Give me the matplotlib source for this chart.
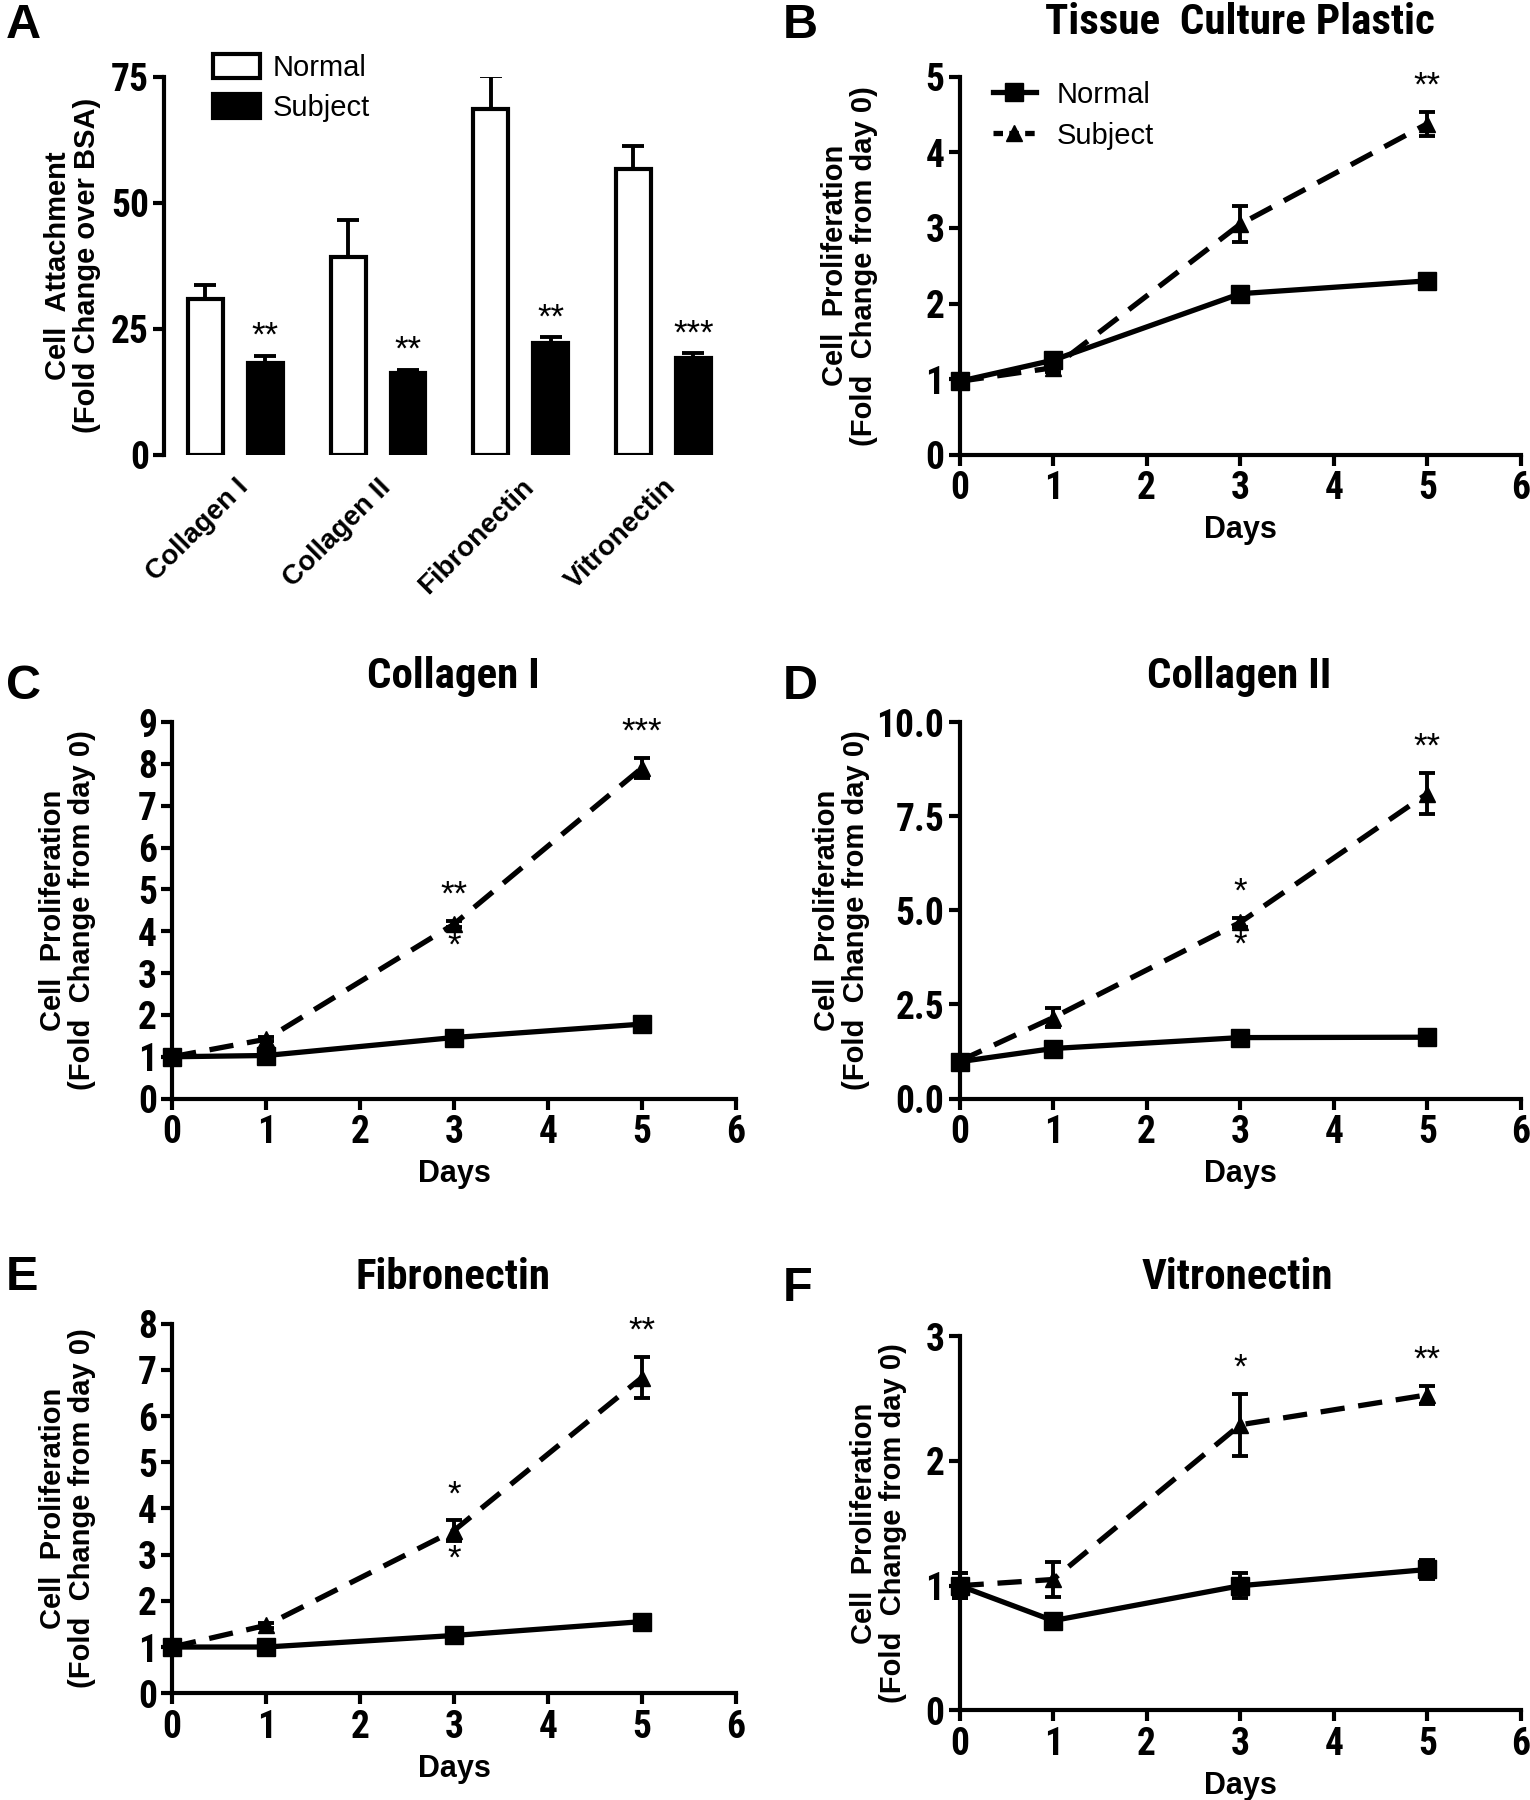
import matplotlib
matplotlib.use("Agg")
import matplotlib.pyplot as plt
from matplotlib.patches import Patch
from matplotlib.lines import Line2D
import numpy as np

# ---------------- data ----------------
substrates = ["Collagen I", "Collagen II", "Fibronectin", "Vitronectin"]
attach_normal = [30.9, 39.2, 68.6, 56.8]
attach_normal_err = [2.7, 7.3, 6.6, 4.4]
attach_subject = [18.2, 16.2, 22.2, 19.2]
attach_subject_err = [1.4, 0.6, 1.1, 0.9]
attach_sig = ["**", "**", "**", "***"]

days = [0, 1, 3, 5]

B_normal = [0.97, 1.25, 2.13, 2.30]
B_normal_err = [0.03, 0.06, 0.04, 0.07]
B_subject = [0.97, 1.15, 3.05, 4.38]
B_subject_err = [0.03, 0.05, 0.24, 0.16]

C_normal = [1.00, 1.03, 1.46, 1.78]
C_normal_err = [0.03, 0.06, 0.05, 0.06]
C_subject = [1.00, 1.42, 4.17, 7.90]
C_subject_err = [0.03, 0.05, 0.08, 0.24]

D_normal = [0.98, 1.33, 1.62, 1.63]
D_normal_err = [0.05, 0.08, 0.06, 0.06]
D_subject = [1.00, 2.15, 4.68, 8.10]
D_subject_err = [0.05, 0.25, 0.12, 0.55]

E_normal = [1.00, 1.00, 1.25, 1.55]
E_normal_err = [0.05, 0.05, 0.07, 0.07]
E_subject = [1.00, 1.47, 3.52, 6.83]
E_subject_err = [0.05, 0.05, 0.22, 0.44]

F_normal = [1.00, 0.72, 1.00, 1.13]
F_normal_err = [0.10, 0.02, 0.10, 0.08]
F_subject = [1.00, 1.05, 2.29, 2.53]
F_subject_err = [0.10, 0.14, 0.25, 0.07]

# significance marks: (day index, label above, label below)
B_sig = [(3, "**", None)]
C_sig = [(2, "**", "*"), (3, "***", None)]
D_sig = [(2, "*", "*"), (3, "**", None)]
E_sig = [(2, "*", "*"), (3, "**", None)]
F_sig = [(2, "*", None), (3, "**", None)]

titles = ["Tissue  Culture Plastic", "Collagen I", "Collagen II",
          "Fibronectin", "Vitronectin"]

# ---------------- style ----------------
NARROW = ["Roboto Condensed", "Asap Condensed", "Archivo Narrow",
          "DejaVu Sans"]
WIDE = ["Liberation Sans", "DejaVu Sans"]
plt.rcParams["font.family"] = NARROW
plt.rcParams["font.weight"] = "bold"
SP_LW = 3.0
TICK_FS = 27
LABEL_FS = 21
STAR_FS = 25
LEG_FS = 21
TITLE_FS = 31

fig = plt.figure(figsize=(15.3, 18.0), dpi=100)

W, H = 1333.0, 1568.0


def rect(x0, y_top, x1, y_bot):
    return [x0 / W, 1 - y_bot / H, (x1 - x0) / W, (y_bot - y_top) / H]


def style_axes(ax, show_bottom=True):
    for s in ["top", "right"]:
        ax.spines[s].set_visible(False)
    ax.spines["left"].set_linewidth(SP_LW)
    ax.spines["bottom"].set_linewidth(SP_LW)
    if not show_bottom:
        ax.spines["bottom"].set_visible(False)
    ax.tick_params(axis="both", which="major", direction="out", length=8,
                   width=SP_LW, labelsize=TICK_FS, pad=3)
    for lab in ax.get_xticklabels() + ax.get_yticklabels():
        lab.set_fontweight("bold")
        lab.set_family(NARROW)


def ylab(ax, x):
    ax.set_ylabel("Cell  Proliferation\n(Fold  Change from day 0)",
                  fontsize=LABEL_FS, fontweight="bold", family=WIDE,
                  linespacing=1.05)
    ax.yaxis.set_label_coords(x, 0.5)


# ---------------- panel A ----------------
axA = fig.add_axes(rect(143, 67, 640, 396))
x = np.arange(len(substrates))
bw = 0.245
off = 0.21
axA.bar(x - off, attach_normal, bw, color="white", edgecolor="black",
        linewidth=3, zorder=3)
axA.bar(x + off, attach_subject, bw, color="black", edgecolor="black",
        linewidth=3, zorder=3)
axA.errorbar(x - off, attach_normal, yerr=[np.zeros(4), attach_normal_err],
             fmt="none", ecolor="black", elinewidth=2.8, capsize=8,
             capthick=2.8, zorder=2)
axA.errorbar(x + off, attach_subject, yerr=[np.zeros(4), attach_subject_err],
             fmt="none", ecolor="black", elinewidth=2.8, capsize=8,
             capthick=2.8, zorder=2)
for xi, v, e, s in zip(x, attach_subject, attach_subject_err, attach_sig):
    axA.text(xi + off, v + e + 0.6, s, ha="center", va="bottom",
             fontsize=STAR_FS, fontweight="normal", family=WIDE)
axA.set_xlim(-0.5, 3.5)
axA.set_ylim(0, 75)
axA.set_yticks([0, 25, 50, 75])
axA.set_xticks(x)
axA.set_xticklabels(substrates, rotation=45, ha="right",
                    rotation_mode="anchor")
style_axes(axA, show_bottom=False)
axA.tick_params(axis="x", length=0, pad=14, labelsize=20)
for lab in axA.get_xticklabels():
    lab.set_family(WIDE)
    lab.set_fontweight("bold")
axA.set_ylabel("Cell  Attachment\n(Fold Change over BSA)", fontsize=LABEL_FS,
               fontweight="bold", family=WIDE, linespacing=1.05)
axA.yaxis.set_label_coords(-0.11, 0.5)
axA.legend(
    handles=[Patch(facecolor="white", edgecolor="black", linewidth=3,
                   label="Normal"),
             Patch(facecolor="black", edgecolor="black", linewidth=3,
                   label="Subject")],
    loc="upper left", bbox_to_anchor=(0.04, 1.13), frameon=False,
    prop={"family": WIDE, "size": LEG_FS, "weight": "normal"},
    handlelength=1.6, handleheight=0.9, labelspacing=0.4, handletextpad=0.45)


# ---------------- line panels ----------------
def line_panel(r, normal, nerr, subject, serr, ylim, yticks, sig,
               fmt=None, lab_x=-0.13):
    ax = fig.add_axes(r)
    ax.errorbar(days, normal, yerr=nerr, color="black", lw=3.8,
                marker="s", markersize=13, capsize=6, capthick=2.8,
                elinewidth=2.8, zorder=3, clip_on=False)
    ax.errorbar(days, subject, yerr=serr, color="black", lw=3.8,
                ls=(0, (4.6, 2.6)), marker="^", markersize=12, capsize=6,
                capthick=2.8, elinewidth=2.8, zorder=3, clip_on=False)
    ax.set_xlim(0, 6)
    ax.set_ylim(*ylim)
    ax.set_xticks(range(7))
    ax.set_yticks(yticks)
    if fmt:
        ax.set_yticklabels([fmt.format(t) for t in yticks])
    style_axes(ax)
    ax.set_xlabel("Days", fontsize=LABEL_FS + 1, fontweight="bold",
                  family=WIDE, labelpad=6)
    ylab(ax, lab_x)
    span = ylim[1] - ylim[0]
    for idx, above, below in sig:
        top = subject[idx] + serr[idx]
        bot = subject[idx] - serr[idx]
        if above:
            ax.text(days[idx], top + 0.025 * span, above, ha="center",
                    va="bottom", fontsize=STAR_FS, fontweight="normal",
                    family=WIDE)
        if below:
            ax.text(days[idx], bot - 0.005 * span, below, ha="center",
                    va="top", fontsize=STAR_FS, fontweight="normal",
                    family=WIDE)
    return ax


axB = line_panel(rect(836, 67, 1325, 396), B_normal, B_normal_err,
                 B_subject, B_subject_err, (0, 5), range(6), B_sig,
                 lab_x=-0.145)
axB.legend(
    handles=[Line2D([], [], color="black", lw=3.8, marker="s",
                    markersize=13, label="Normal"),
             Line2D([], [], color="black", lw=3.8, ls=(0, (1.8, 1.2)),
                    marker="^", markersize=12, label="Subject")],
    loc="upper left", bbox_to_anchor=(0.012, 1.06), frameon=False,
    prop={"family": WIDE, "size": LEG_FS, "weight": "normal"},
    handlelength=1.5, labelspacing=0.45, handletextpad=0.7)

line_panel(rect(150, 629, 641, 957), C_normal, C_normal_err, C_subject,
           C_subject_err, (0, 9), range(10), C_sig, lab_x=-0.135)
line_panel(rect(836, 629, 1325, 957), D_normal, D_normal_err, D_subject,
           D_subject_err, (0, 10), [0, 2.5, 5, 7.5, 10], D_sig,
           fmt="{:.1f}", lab_x=-0.16)
line_panel(rect(150, 1153, 641, 1475), E_normal, E_normal_err, E_subject,
           E_subject_err, (0, 8), range(9), E_sig, lab_x=-0.135)
line_panel(rect(836, 1164, 1325, 1490), F_normal, F_normal_err, F_subject,
           F_subject_err, (0, 3), range(4), F_sig, lab_x=-0.094)

# panel titles
for t, (px, py) in zip(titles, [(1080, 20), (395, 589), (1080, 589),
                                (395, 1113), (1078, 1113)]):
    fig.text(px / W, 1 - py / H, t, fontsize=TITLE_FS, fontweight="bold",
             family=NARROW, ha="center", va="center")

# panel letters
for letter, (px, py) in {"A": (5, 22), "B": (682, 22), "C": (5, 598),
                         "D": (682, 598), "E": (5, 1113),
                         "F": (682, 1122)}.items():
    fig.text(px / W, 1 - py / H, letter, fontsize=35, fontweight="bold",
             family=WIDE, va="center", ha="left")

fig.savefig("out.png", dpi=100, facecolor="white")
